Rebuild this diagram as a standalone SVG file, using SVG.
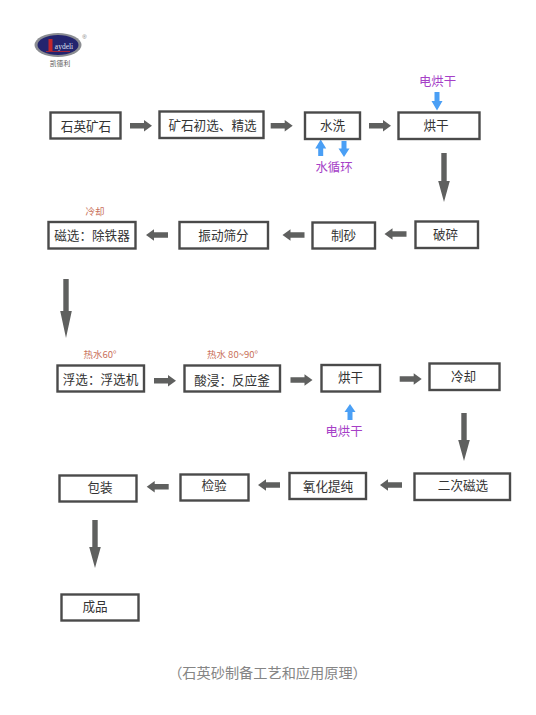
<svg xmlns="http://www.w3.org/2000/svg" width="536" height="715" viewBox="0 0 536 715">
<style>
text{font-family:"Noto Sans CJK SC","Liberation Sans",sans-serif;text-anchor:middle}
.box{fill:#fff;stroke:#4a4a4a;stroke-width:2.4}
.t{font-size:12.6px;fill:#333}
.gr{fill:#5f605f}
.bl{fill:#4a9ff5}
.pu{font-size:12.4px;fill:#a63fc7}
.re{font-size:9.5px;fill:#c9705a}
.cap{font-size:14.2px;fill:#858585}
</style>
<defs>
<path id="r" d="M-11-2.8H3V-5.8L11 0 3 5.8V2.8H-11Z"/>
<path id="l" d="M11-2.8H-3V-5.8L-11 0-3 5.8V2.8H11Z"/>
</defs>
<rect width="536" height="715" fill="#fff"/>
<g id="logo">
<ellipse cx="58" cy="45" rx="23.5" ry="12" fill="#8b8d92"/>
<ellipse cx="58" cy="45" rx="20.5" ry="10" fill="#23246e"/>
<rect x="48.500" y="39" width="4" height="12" fill="#c2262c"/>
<rect x="46" y="51" width="24" height="0.8" fill="#c2262c"/>
<text x="64" y="49" style="font-family:'Liberation Serif',serif;font-size:7.5px;fill:#dfe0ee">aydeli</text>
<text x="84.500" y="38.500" style="font-family:'Liberation Sans',sans-serif;font-size:6px;fill:#777">®</text>
<text x="60" y="66" style="font-size:6.800px;fill:#555">凯德利</text>
</g>
<g id="connectors">
<use href="#r" class="gr" x="141" y="125.700"/>
<use href="#r" class="gr" x="281.700" y="125.700"/>
<use href="#r" class="gr" x="380" y="125.700"/>
<polygon class="gr" points="441.300,153 446.700,153 446.700,181 449.800,181 444,202 438.200,181 441.300,181"/>
<use href="#l" class="gr" x="395.500" y="234"/>
<use href="#l" class="gr" x="293.500" y="235"/>
<use href="#l" class="gr" x="157" y="235"/>
<polygon class="gr" points="63.300,279 68.700,279 68.700,311 71.800,311 66,338 60.200,311 63.300,311"/>
<use href="#r" class="gr" x="165" y="380.700"/>
<use href="#r" class="gr" x="301.500" y="380"/>
<use href="#r" class="gr" x="410.700" y="379"/>
<polygon class="gr" points="461.300,413 466.700,413 466.700,440 469.800,440 464,461 458.200,440 461.300,440"/>
<use href="#l" class="gr" x="391" y="485"/>
<use href="#l" class="gr" x="269" y="485"/>
<use href="#l" class="gr" x="157.700" y="486.700"/>
<polygon class="gr" points="92.300,520 97.700,520 97.700,547 100.800,547 95,568 89.200,547 92.300,547"/>
<polygon class="bl" points="434.500,92 439.500,92 439.500,101 442.500,101 437,110.500 431.500,101 434.500,101"/>
<polygon class="bl" points="318.200,156 323.200,156 323.200,148.500 326.200,148.500 320.700,139.500 315.200,148.500 318.200,148.500"/>
<polygon class="bl" points="341.500,141 346.500,141 346.500,148.500 349.500,148.500 344,157 338.500,148.500 341.500,148.500"/>
<polygon class="bl" points="347.500,420 352.500,420 352.500,412 355.500,412 350,404 344.500,412 347.500,412"/>
</g>
<g id="n1"><rect class="box" x="50.500" y="112.500" width="70" height="26"/><text class="t" x="86" y="130.500">石英矿石</text></g>
<g id="n2"><rect class="box" x="159.500" y="111.500" width="104" height="26.500"/><text class="t" x="212.500" y="130">矿石初选、精选</text></g>
<g id="n3"><rect class="box" x="305" y="112.500" width="55" height="26.500"/><text class="t" x="332.500" y="130">水洗</text></g>
<g id="n4"><rect class="box" x="398.500" y="112.500" width="81" height="26.500"/><text class="t" x="436" y="130">烘干</text></g>
<g id="n5"><rect class="box" x="415.500" y="221.500" width="62.500" height="26.500"/><text class="t" x="445.500" y="239">破碎</text></g>
<g id="n6"><rect class="box" x="312.500" y="222.500" width="62.500" height="26"/><text class="t" x="343.500" y="240">制砂</text></g>
<g id="n7"><rect class="box" x="179.500" y="222" width="88.500" height="26.500"/><text class="t" x="223.500" y="239.500">振动筛分</text></g>
<g id="n8"><rect class="box" x="48.500" y="222" width="87" height="26.500"/><text class="t" x="92" y="239.500">磁选：除铁器</text></g>
<text class="re" x="95" y="215">冷却</text>
<g id="n9"><rect class="box" x="57.500" y="365.500" width="86.500" height="26"/><text class="t" x="100.500" y="384">浮选：浮选机</text></g>
<g id="n10"><rect class="box" x="184.500" y="365.500" width="95.500" height="26"/><text class="t" x="232" y="385">酸浸：反应釜</text></g>
<g id="n11"><rect class="box" x="321.500" y="365" width="58.500" height="26.500"/><text class="t" x="350.500" y="382">烘干</text></g>
<g id="n12"><rect class="box" x="429.500" y="363.500" width="70" height="26.500"/><text class="t" x="463.500" y="381">冷却</text></g>
<g id="n13"><rect class="box" x="414.500" y="473.500" width="95.500" height="26.500"/><text class="t" x="463" y="490">二次磁选</text></g>
<g id="n14"><rect class="box" x="289.500" y="473" width="76.500" height="26"/><text class="t" x="328" y="491">氧化提纯</text></g>
<g id="n15"><rect class="box" x="180.500" y="474.500" width="68" height="26"/><text class="t" x="214" y="490">检验</text></g>
<g id="n16"><rect class="box" x="59.500" y="475.500" width="77" height="26"/><text class="t" x="100" y="492">包装</text></g>
<g id="n17"><rect class="box" x="61.500" y="594.500" width="77" height="26"/><text class="t" x="95" y="611">成品</text></g>
<text class="pu" x="437.500" y="86">电烘干</text>
<text class="pu" x="334" y="172">水循环</text>
<text class="pu" x="344" y="436">电烘干</text>
<text class="re" x="100" y="358">热水60°</text>
<text class="re" x="232.500" y="358">热水 80~90°</text>
<text class="cap" x="267.500" y="678">（石英砂制备工艺和应用原理）</text>
</svg>
